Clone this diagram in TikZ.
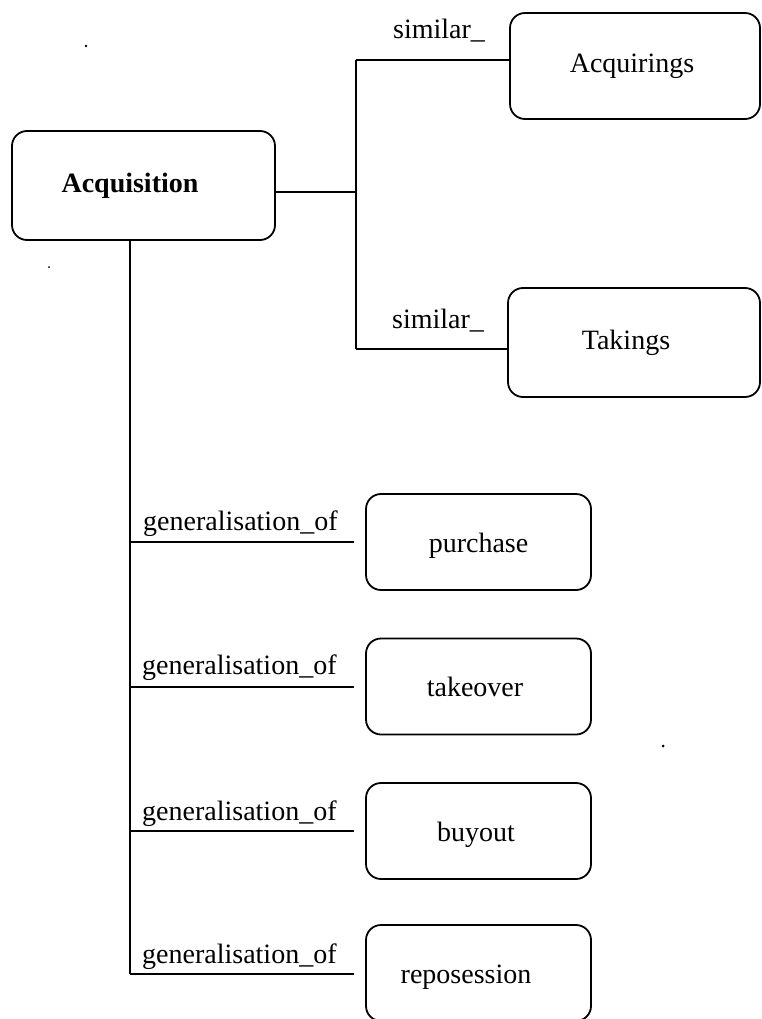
\documentclass[tikz,border=0pt]{standalone}
\usepackage{fontspec}
\setmainfont{Liberation Serif}
\begin{document}
\begin{tikzpicture}[x=1pt, y=-1pt,
  every node/.style={font=\fontsize{28}{32}\selectfont},
  concept/.style={draw, line width=1.8pt, rounded corners=15pt, inner sep=0pt},
  smallbox/.style={concept, minimum width=225pt, minimum height=96pt,
    text height=20pt, text depth=0pt},
  % moves the text left by half the given amount inside its box
  nudge/.style={execute at begin node={\hspace*{-#1}}},
  link/.style={line width=1.8pt},
  rel/.style={anchor=base west, inner sep=0pt}]
\useasboundingbox (0,0) rectangle (761,1019);

% main concept and its synonyms
\node[concept, minimum width=263pt, minimum height=109pt, nudge=27pt, font=\fontsize{28}{32}\selectfont\bfseries]
  (acq) at (143.5,185.5) {Acquisition};
\node[concept, minimum width=250pt, minimum height=106pt, nudge=6pt] (acqs) at (635,66) {Acquirings};
\node[concept, minimum width=252pt, minimum height=109pt, nudge=16pt] (tak) at (634,342.5) {Takings};

% specialisations
\node[smallbox] (pur) at (478.5,542) {purchase};
\node[smallbox, nudge=7pt] (tko) at (478.5,686.5) {takeover};
\node[smallbox, nudge=5pt] (buy) at (478.5,831) {buyout};
\node[smallbox, nudge=25pt] (rep) at (478.5,973) {reposession};

% junction points
\coordinate (jm) at (356,192);
\coordinate (jt) at (356,60);
\coordinate (jb) at (356,349);
\coordinate (g1) at (130,542);
\coordinate (g2) at (130,687);
\coordinate (g3) at (130,831);
\coordinate (g4) at (130,974);

% similarity links
\draw[link] (acq.east |- jm) -- (jm);
\draw[link] (jt) -- (jb);
\draw[link] (jt) -- (jt -| acqs.west);
\draw[link] (jb) -- (jb -| tak.west);
\node[rel] (s1) at (393,39) {similar\_};
\node[rel] (s2) at (392,328) {similar\_};

% generalisation links
\draw[link] (acq.south -| g4) -- (g4);
\draw[link, shorten >=11pt] (g1) -- (g1 -| pur.west);
\draw[link, shorten >=11pt] (g2) -- (g2 -| tko.west);
\draw[link, shorten >=11pt] (g3) -- (g3 -| buy.west);
\draw[link, shorten >=11pt] (g4) -- (g4 -| rep.west);
\node[rel] (l1) at (143,530) {generalisation\_of};
\node[rel] (l2) at (142,674) {generalisation\_of};
\node[rel] (l3) at (142,820) {generalisation\_of};
\node[rel] (l4) at (142,963) {generalisation\_of};

% stray specks
\fill (86,46) circle (1.3pt);
\fill (49,267) circle (1pt);
\fill (663,746) circle (1.5pt);
\end{tikzpicture}
\end{document}
